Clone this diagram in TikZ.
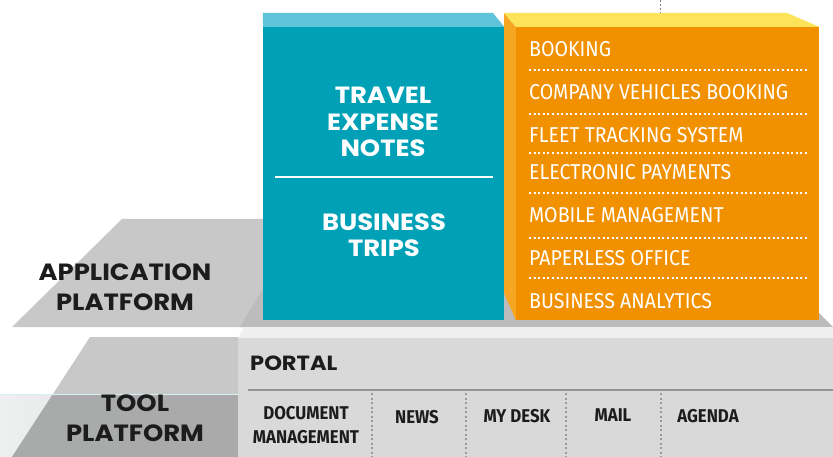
\documentclass[tikz,border=0pt]{standalone}
\usepackage{fontspec}
\setmainfont{Fira Sans}
\newfontfamily\headfont[FakeStretch=1.1]{Poppins}
\newfontfamily\listfont[FakeStretch=0.91]{Fira Sans}
\definecolor{tealfront}{HTML}{00A1B6}
\definecolor{tealtop}{HTML}{5FC3D9}
\definecolor{orangefront}{HTML}{F29100}
\definecolor{orangeside}{HTML}{F6A623}
\definecolor{orangetop}{HTML}{FDE35A}
\definecolor{platgray}{HTML}{C8C8C8}
\definecolor{plinthgray}{HTML}{BCBCBC}
\definecolor{stripgray}{HTML}{EFEFEF}
\definecolor{portalgray}{HTML}{D9D9D9}
\definecolor{banddark}{HTML}{A9ABAB}
\definecolor{bandlight}{HTML}{EEF0F0}
\definecolor{inkblack}{HTML}{1C1C1C}

\begin{document}
\begin{tikzpicture}[x=1pt,y=-1pt]
                \tikzstyle{platlabel}=[text=inkblack,font=\headfont\bfseries\fontsize{23.5}{30}\selectfont,align=center,inner sep=0pt]
                \tikzstyle{headtext}=[text=white,font=\headfont\bfseries\fontsize{23.5}{26.5}\selectfont,align=center,inner sep=0pt]
                \tikzstyle{item}=[text=white,font=\listfont\fontsize{21.5}{22}\selectfont,anchor=west,inner sep=0pt]
                \tikzstyle{cell}=[text=inkblack,font=\listfont\bfseries\fontsize{18.5}{24}\selectfont,align=center,inner sep=0pt]
                \tikzstyle{dotline}=[white,line width=2pt,dash pattern=on 2pt off 2.6pt]
                \tikzstyle{divider}=[gray!80,line width=1.6pt,dash pattern=on 2pt off 2.5pt]
                \useasboundingbox (0,0) rectangle (833,457);
                % platforms
                \fill[platgray] (12,327) -- (122,219) -- (400,219) -- (400,327) -- cycle;
                \fill[plinthgray] (240,327) -- (265,285) -- (791,285) -- (833,327) -- cycle;
                \fill[stripgray] (238,338) -- (244,327) -- (833,327) -- (833,338) -- cycle;
                \shade[left color=bandlight,right color=portalgray] (0,394) rectangle (238,457);
                \fill[platgray] (12,457) -- (90,337) -- (238,337) -- (238,457) -- cycle;
                \begin{scope}
                        \clip (12,457) -- (90,337) -- (238,337) -- (238,457) -- cycle;
                        \shade[left color=banddark,right color=platgray!85!black] (0,394) rectangle (238,457);
                \end{scope}
                \draw[tealtop!25!white,line width=1pt] (0,394) -- (238,394);
                \node[platlabel] (AP) at (125,287) {APPLICATION\\PLATFORM};
                \node[platlabel] (TP) at (135,418) {TOOL\\PLATFORM};
                % portal
                \fill[portalgray] (238,338) rectangle (833,457);
                \node[text=inkblack,font=\headfont\bfseries\fontsize{20.5}{24}\selectfont,anchor=west,inner sep=0pt] (P) at (250,363) {PORTAL};
                \draw[gray!85,line width=2pt] (248,390) -- (833,390);
                        \node[cell] (C-0) at (306,425) {DOCUMENT\\MANAGEMENT};
                        \node[cell] (C-1) at (417,417) {NEWS};
                        \node[cell] (C-2) at (517,416) {MY DESK};
                        \node[cell] (C-3) at (613,415) {MAIL};
                        \node[cell] (C-4) at (708,416) {AGENDA};
                    \foreach \x in {372,466,566,661}
                        \draw[divider] (\x,393) -- (\x,457);
                % teal box
                \node[fill=tealfront,minimum width=241pt,minimum height=293pt,inner sep=0pt] (T) at (383.5,173.5) {};
                \fill[tealtop] (T.north west) -- ++(0,-14) -- ++(230,0) -- (T.north east) -- cycle;
                \node[headtext] (TE) at (383,122) {TRAVEL\\EXPENSE\\NOTES};
                \draw[white,line width=2.5pt] (275,177) -- (493,177);
                \node[headtext] (BT) at (384,235) {BUSINESS\\TRIPS};
                % orange box
                \node[fill=orangefront,minimum width=303pt,minimum height=293pt,inner sep=0pt] (O) at (667.5,173.5) {};
                \fill[orangeside] (504,13) -- (O.north west) -- (O.south west) -- (504,293) -- cycle;
                \fill[orangetop] (504,13) -- (787,13) -- (O.north east) -- (O.north west) -- cycle;
                \coordinate (top) at (660,0);
                \draw[gray,line width=1pt,dash pattern=on 2pt off 2pt] (top) -- (660,13);
                        \node[item] (I-1) at (529,49) {BOOKING};
                        \node[item] (I-2) at (529,92) {COMPANY VEHICLES BOOKING};
                        \node[item] (I-3) at (529,135) {FLEET TRACKING SYSTEM};
                        \node[item] (I-4) at (529,172) {ELECTRONIC PAYMENTS};
                        \node[item] (I-5) at (529,215) {MOBILE MANAGEMENT};
                        \node[item] (I-6) at (529,258) {PAPERLESS OFFICE};
                        \node[item] (I-7) at (529,301) {BUSINESS ANALYTICS};
                    \foreach \y in {70,114,153,193,238,278}
                        \draw[dotline] (529,\y) -- (807,\y);
\end{tikzpicture}
\end{document}
